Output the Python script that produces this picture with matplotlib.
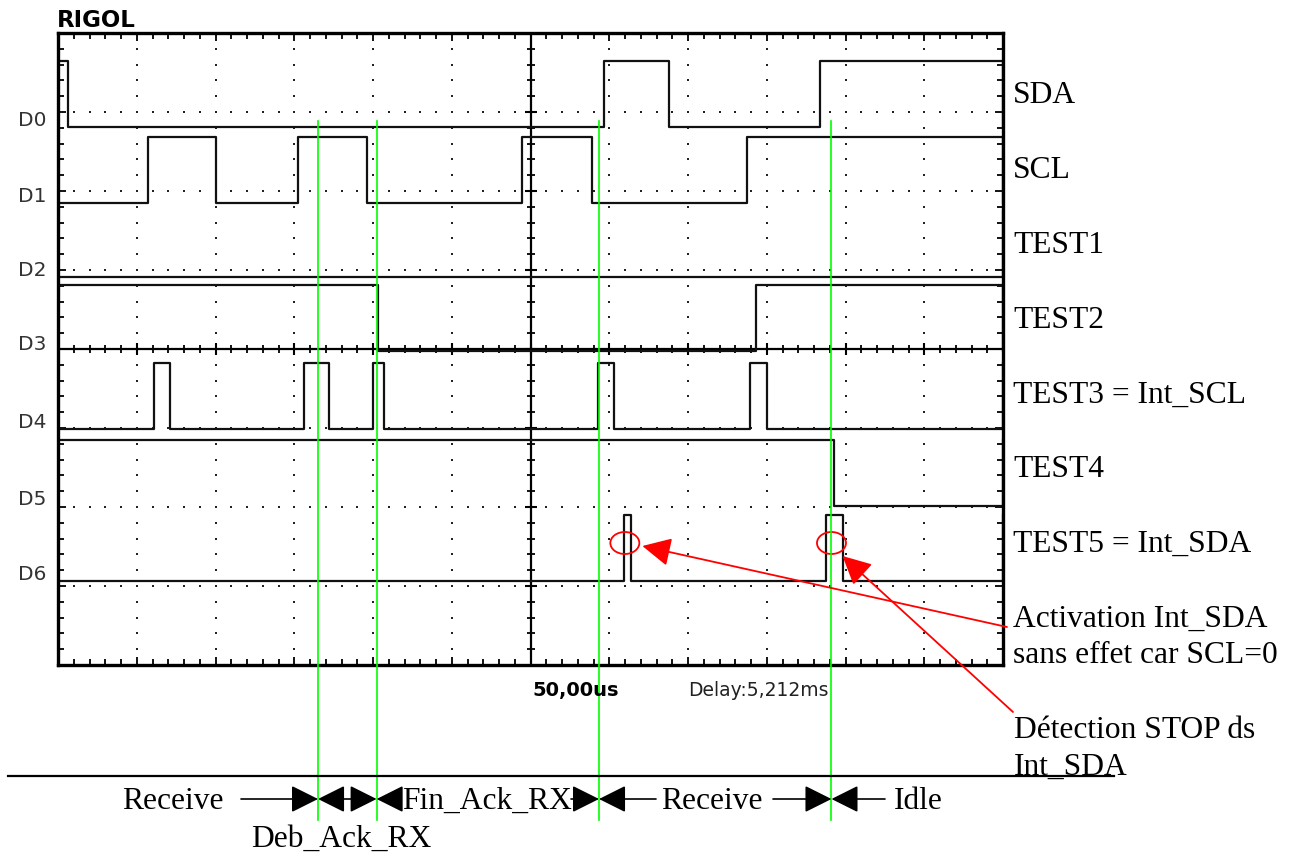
import numpy as np
import matplotlib.pyplot as plt
from matplotlib.patches import Ellipse
from matplotlib.transforms import blended_transform_factory

# capture RIGOL : 12 div x 50 us, voies D0..D6
T_END = 600.0
channels = ["D0", "D1", "D2", "D3", "D4", "D5", "D6"]
names = ["SDA", "SCL", "TEST1", "TEST2", "TEST3 = Int_SCL", "TEST4", "TEST5 = Int_SDA"]
start_level = [1, 0, 0, 1, 0, 1, 0]

# instants des fronts (us depuis le bord gauche)
sda_edges = [6.5, 346.7, 387.7, 483.8]
scl_edges = [57.0, 100.5, 152.2, 196.0, 294.8, 339.2, 437.3]
test1_edges = []
test2_edges = [203.0, 443.2]
test3_edges = [61.0, 71.3, 156.4, 171.9, 199.8, 207.2, 343.1, 353.2, 439.4, 450.0]
test4_edges = [492.7]
test5_edges = [359.6, 363.6, 487.6, 498.2]
edges = [sda_edges, scl_edges, test1_edges, test2_edges, test3_edges, test4_edges, test5_edges]

# curseurs verts (changements d'etat) et impulsions entourees
cursors = [165.1, 202.3, 343.5, 491.1]
circled = [359.9, 491.1]

W, H = 1300, 854
SERIF = "Liberation Serif"
FS = 22.7

fig = plt.figure(figsize=(W / 100, H / 100), dpi=100)
scope = fig.add_axes([58 / W, 1 - 666 / H, 945 / W, 632 / H])
scope.set_xlim(0, T_END)
scope.set_ylim(8, 0)

# cadre + graduations
scope.set_xticks(np.arange(0, 601, 50))
scope.set_xticks(np.arange(0, 601, 10), minor=True)
scope.set_yticks(np.arange(0, 9))
scope.set_yticks(np.arange(0, 8.01, 0.2), minor=True)
scope.tick_params(which="both", direction="in", top=True, right=True,
                  labelbottom=False, labelleft=False, width=1.3, color="k")
scope.tick_params(which="major", length=6)
scope.tick_params(which="minor", length=4)
for s in scope.spines.values():
    s.set_linewidth(2.4)

# grille en pointilles
xs = np.arange(10, 600, 10)
ys = np.arange(0.2, 8, 0.2)
for gy in [1, 2, 3, 5, 6, 7]:
    scope.plot(xs, np.full(len(xs), gy), ls="none", marker="s", ms=1.7, mew=0, color="#222")
for gx in range(50, 600, 50):
    if gx == 300:
        continue
    scope.plot(np.full(len(ys), gx), ys, ls="none", marker="s", ms=1.7, mew=0, color="#222")

# croix centrale
scope.axvline(300, color="k", lw=1.6)
scope.axhline(4, color="k", lw=1.6)
scope.plot(xs, np.full(len(xs), 4), ls="none", marker="|", ms=6, mew=1.3, color="k")
scope.plot(np.arange(50, 600, 50), np.full(11, 4), ls="none", marker="|", ms=9, mew=1.5, color="k")
scope.plot(np.full(len(ys), 300), ys, ls="none", marker="_", ms=6, mew=1.3, color="k")
scope.plot(np.full(7, 300), np.arange(1, 8), ls="none", marker="_", ms=9, mew=1.5, color="k")

# traces logiques
lows = [1.19, 2.152, 3.089, 4.03, 5.013, 5.987, 6.937]
AMP = 0.835
for k in range(len(channels)):
    t = np.concatenate([[0.0], edges[k], [T_END]])
    lv = (start_level[k] + np.arange(len(t))) % 2
    scope.step(t, lows[k] - AMP * lv, where="post", color="#111", lw=1.6)

# calque d'annotation en pixels
ann = fig.add_axes([0, 0, 1, 1], zorder=5)
ann.set_xlim(0, W)
ann.set_ylim(H, 0)
ann.axis("off")


def to_px(t):
    return ann.transData.inverted().transform(scope.transData.transform((t, 0)))[0]


ytrans = blended_transform_factory(ann.transData, scope.transData)
for k, ch in enumerate(channels):
    ann.text(46, lows[k] - 0.03, ch, transform=ytrans, ha="right", va="baseline",
             fontsize=14.5, color="#333", family="DejaVu Sans")

ann.text(57, 27, "RIGOL", fontsize=16.5, fontweight="bold", family="DejaVu Sans")
ann.text(532, 696, "50,00us", fontsize=14, fontweight="bold", family="DejaVu Sans")
ann.text(688, 696, "Delay:5,212ms", fontsize=13.5, family="DejaVu Sans", color="#222")

name_y = [103, 178, 253, 328, 403, 477, 552]
for nm, y in zip(names, name_y):
    ann.text(1013, y, nm, family=SERIF, fontsize=FS, va="baseline")

ann.text(1013, 627, "Activation Int_SDA", family=SERIF, fontsize=FS, va="baseline")
ann.text(1013, 663, "sans effet car SCL=0", family=SERIF, fontsize=FS, va="baseline")
ann.text(1014, 738, "Détection STOP ds", family=SERIF, fontsize=FS, va="baseline")
ann.text(1014, 775, "Int_SDA", family=SERIF, fontsize=FS, va="baseline")

# curseurs verts
gtrans = blended_transform_factory(scope.transData, ann.transData)
for c in cursors:
    ann.plot([c, c], [122, 821], color="#00ff00", lw=1.2, transform=gtrans)

# cercles et fleches rouges
for t in circled:
    ann.add_patch(Ellipse((to_px(t), 544), 29, 22, fill=False, ec="red", lw=1.3))
red = dict(arrowstyle="-|>,head_length=0.8,head_width=0.4", mutation_scale=22,
           lw=1.3, color="red", shrinkA=0, shrinkB=0)
ann.annotate("", xy=(to_px(circled[0]) + 17.5, 547), xytext=(1007, 628), arrowprops=red)
ann.annotate("", xy=(to_px(circled[1]) + 11, 557), xytext=(1013, 713), arrowprops=red)

# frise des etats
ROW = 800
bx = [to_px(c) for c in cursors]
ann.plot([8, 1114], [777, 777], color="k", lw=1.6)


def arrow(x0, x1, style="-|>"):
    ann.annotate("", xy=(x1, ROW), xytext=(x0, ROW),
                 arrowprops=dict(arrowstyle=style + ",head_length=0.8,head_width=0.4",
                                 mutation_scale=21, lw=1.2, color="k",
                                 shrinkA=0, shrinkB=0))


ann.text(122, 809, "Receive", family=SERIF, fontsize=FS, va="baseline")
arrow(241, bx[0])
arrow(bx[0], bx[1], "<|-|>")
arrow(bx[1] + 18, bx[1])
ann.text(402, 809, "Fin_Ack_RX", family=SERIF, fontsize=FS, va="baseline")
arrow(571, bx[2])
arrow(656, bx[2])
ann.text(661, 809, "Receive", family=SERIF, fontsize=FS, va="baseline")
arrow(773, bx[3])
arrow(885, bx[3])
ann.text(894, 809, "Idle", family=SERIF, fontsize=FS, va="baseline")
ann.text(251, 847, "Deb_Ack_RX", family=SERIF, fontsize=FS, va="baseline")

fig.savefig("out.png", dpi=100)
